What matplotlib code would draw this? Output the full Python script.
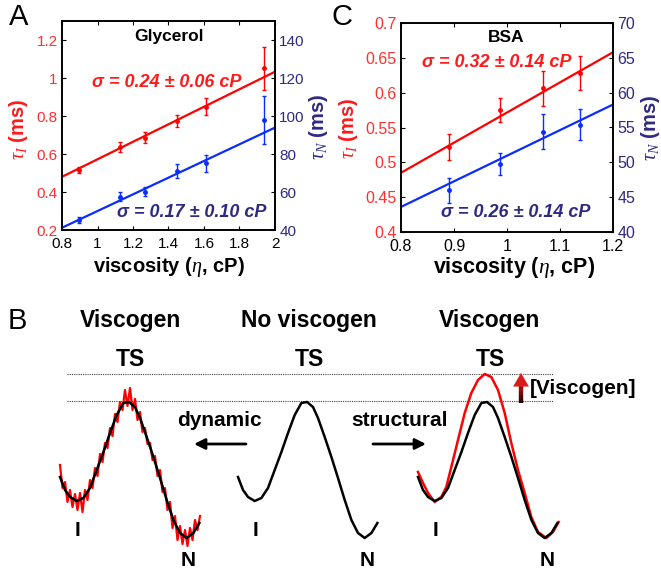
import matplotlib
matplotlib.use("Agg")
import matplotlib.pyplot as plt

plt.rcParams["font.family"] = ["Liberation Sans", "DejaVu Sans"]
plt.rcParams["mathtext.fontset"] = "custom"
plt.rcParams["mathtext.it"] = "Liberation Serif:italic"
plt.rcParams["mathtext.rm"] = "Liberation Sans"

W, H = 661, 572
RED = "#ff1a1a"
TICK_RED = "#ff3030"
NAVY = "#2e2a80"
BLUE = "#0a2cff"

# panel A: glycerol
glycerol_visc = [0.894, 1.129, 1.268, 1.447, 1.614, 1.94]
glycerol_tau_i = [0.516, 0.637, 0.686, 0.774, 0.849, 1.051]
glycerol_tau_i_err = [0.018, 0.026, 0.028, 0.033, 0.046, 0.112]
glycerol_tau_n = [45.3, 57.5, 60.2, 71.1, 75.1, 97.9]
glycerol_tau_n_err = [1.6, 2.3, 2.5, 3.8, 4.4, 12.5]
glycerol_fit_x = [0.8, 2.0]
glycerol_fit_i = [0.48, 1.033]
glycerol_fit_n = [41.2, 93.9]

# panel C: BSA
bsa_visc = [0.891, 0.987, 1.068, 1.138]
bsa_tau_i = [0.522, 0.575, 0.606, 0.628]
bsa_tau_i_err = [0.0185, 0.0175, 0.025, 0.024]
bsa_tau_n = [46.0, 49.8, 54.4, 55.4]
bsa_tau_n_err = [1.8, 1.55, 2.5, 2.2]
bsa_fit_x = [0.8, 1.2]
bsa_fit_i = [0.485, 0.658]
bsa_fit_n = [43.6, 58.3]

# panel B: schematic energy landscapes (reaction coordinate, energy in px)
profile_x = [0, 5, 10, 16.7, 23.4, 30, 36.7, 43.4, 50, 56.7, 63.4, 69, 75, 80,
             86.7, 93.4, 100, 106.7, 113.4, 120, 126.7, 133.4, 139.4]
profile_e = [63, 50, 43, 39, 42, 52, 70, 88, 107, 125, 137, 138, 133, 122,
             103, 83, 62, 40, 20, 7, 2, 7, 17]
noisy_x = [0, 2.5, 5, 7.5, 10, 12.5, 15, 17.5, 20, 22.5, 25, 27.5, 30, 32.5,
           35, 37.5, 40, 42.5, 45, 47.5, 50, 52.5, 55, 57.5, 60, 62.5, 65, 67.5,
           70, 72.5, 75, 77.5, 80, 82.5, 85, 87.5, 90, 92.5, 95, 97.5, 100,
           102.5, 105, 107.5, 110, 112.5, 115, 117.5, 120, 122.5, 125, 127.5,
           130, 132.5, 135, 137.5, 140]
noisy_e = [75, 52, 58, 38, 50, 33, 46, 30, 47, 28, 50, 40, 60, 52, 72, 64, 86,
           78, 97, 92, 112, 104, 126, 118, 138, 130, 150, 134, 152, 130, 141,
           120, 128, 108, 112, 96, 97, 80, 84, 64, 70, 48, 52, 30, 38, 12, 24,
           0, 14, -4, 10, -6, 12, 0, 20, 10, 24]
raised_x = [0, 5, 10, 16.7, 23.3, 28.3, 33.3, 40, 46.7, 53.3, 60, 66.7, 73.3,
            80, 86.7, 93.3, 100, 106.7, 113.3, 120, 128.3, 135, 140.7]
raised_e = [68, 57, 47, 38, 43, 53, 73, 100, 127, 147, 160, 166, 163, 150,
            127, 97, 70, 47, 23, 8, 2, 8, 18]


def fx(x):
    return x / W


def fy(y):
    return 1 - y / H


def rate_panel(box, visc, ti, tie, tn, tne, fit_x, fit_i, fit_n,
               xlim, xticks, ilim, iticks, nlim, nticks, fs):
    left, top, right, bottom = box
    ax = fig.add_axes([fx(left), fy(bottom), (right - left) / W, (bottom - top) / H])
    ax2 = ax.twinx()
    ax.plot(fit_x, fit_i, color="#ff0000", lw=1.6)
    ax.errorbar(visc, ti, yerr=tie, fmt="o", ms=2.5, color="#ff0000",
                ecolor="#ff0000", elinewidth=1, capsize=1.5)
    ax2.plot(fit_x, fit_n, color=BLUE, lw=1.6)
    ax2.errorbar(visc, tn, yerr=tne, fmt="o", ms=2.5, color=BLUE,
                 ecolor=BLUE, elinewidth=1, capsize=1.5)
    ax.set_xlim(*xlim)
    ax.set_ylim(*ilim)
    ax2.set_ylim(*nlim)
    ax.set_xticks(xticks)
    ax.set_yticks(iticks)
    ax2.set_yticks(nticks)
    ax.set_xticklabels([f"{v:g}" for v in xticks])
    ax.set_yticklabels([f"{v:g}" for v in iticks])
    ax2.set_yticklabels([f"{v:g}" for v in nticks])
    ax.tick_params(axis="x", direction="in", top=True, length=3, labelsize=fs,
                   colors="black", pad=5)
    ax.tick_params(axis="y", direction="in", length=3, labelsize=fs,
                   labelcolor=TICK_RED, color="black", pad=3)
    ax2.tick_params(axis="y", direction="in", length=3, labelsize=fs,
                    labelcolor=NAVY, color="black", pad=3)
    for a in (ax, ax2):
        for s in a.spines.values():
            s.set_linewidth(1.2)
    return ax


fig = plt.figure(figsize=(W / 100, H / 100), dpi=100)

# ---- panel A
axA = rate_panel((62, 21, 275, 230), glycerol_visc, glycerol_tau_i, glycerol_tau_i_err,
                 glycerol_tau_n, glycerol_tau_n_err, glycerol_fit_x, glycerol_fit_i,
                 glycerol_fit_n, (0.8, 2.0), [0.8, 1.0, 1.2, 1.4, 1.6, 1.8, 2.0],
                 (0.2, 1.3), [0.2, 0.4, 0.6, 0.8, 1.0, 1.2],
                 (40, 150), [40, 60, 80, 100, 120, 140], 11)
axA.text(0.502, 0.928, "Glycerol", transform=axA.transAxes, ha="center", va="center",
         fontsize=12.5, fontweight="bold")
axA.text(0.493, 0.708, "σ = 0.24 ± 0.06 cP", transform=axA.transAxes, ha="center",
         va="center", fontsize=13, fontweight="bold", style="italic", color=RED)
axA.text(0.61, 0.086, "σ = 0.17 ± 0.10 cP", transform=axA.transAxes, ha="center",
         va="center", fontsize=13, fontweight="bold", style="italic", color=NAVY)

# ---- panel C
axC = rate_panel((401, 23, 613, 232), bsa_visc, bsa_tau_i, bsa_tau_i_err,
                 bsa_tau_n, bsa_tau_n_err, bsa_fit_x, bsa_fit_i, bsa_fit_n,
                 (0.8, 1.2), [0.8, 0.9, 1.0, 1.1, 1.2],
                 (0.4, 0.7), [0.4, 0.45, 0.5, 0.55, 0.6, 0.65, 0.7],
                 (40, 70), [40, 45, 50, 55, 60, 65, 70], 11.5)
axC.text(0.495, 0.933, "BSA", transform=axC.transAxes, ha="center", va="center",
         fontsize=12.5, fontweight="bold")
axC.text(0.453, 0.813, "σ = 0.32 ± 0.14 cP", transform=axC.transAxes, ha="center",
         va="center", fontsize=13, fontweight="bold", style="italic", color=RED)
axC.text(0.542, 0.091, "σ = 0.26 ± 0.14 cP", transform=axC.transAxes, ha="center",
         va="center", fontsize=13, fontweight="bold", style="italic", color=NAVY)

# axis labels and panel letters
lab = dict(ha="center", va="center", fontweight="bold")
fig.text(fx(169), fy(267), r"viscosity ($\eta$, cP)", fontsize=14.5, **lab)
fig.text(fx(514), fy(267), r"viscosity ($\eta$, cP)", fontsize=15.5, **lab)
fig.text(fx(19), fy(129), r"$\tau_I$ (ms)", rotation=90, fontsize=14.5, color=RED, **lab)
fig.text(fx(318), fy(127), r"$\tau_N$ (ms)", rotation=90, fontsize=14.5, color=NAVY, **lab)
fig.text(fx(348), fy(128), r"$\tau_I$ (ms)", rotation=90, fontsize=14.5, color=RED, **lab)
fig.text(fx(650), fy(128), r"$\tau_N$ (ms)", rotation=90, fontsize=14.5, color=NAVY, **lab)
fig.text(fx(19), fy(17), "A", ha="center", va="center", fontsize=21)
fig.text(fx(342), fy(17), "C", ha="center", va="center", fontsize=21)
fig.text(fx(17), fy(321), "B", ha="center", va="center", fontsize=21)

# ---- panel B: schematic in pixel coordinates
sk = fig.add_axes([0, 0, 1, 272 / H])
sk.set_xlim(0, W)
sk.set_ylim(H, 300)
sk.axis("off")

base = 540
x0_left, x0_mid, x0_right = 60, 238, 418


def place(xs, es, x0):
    return [x0 + v for v in xs], [base - e for e in es]


sk.plot(*place(noisy_x, noisy_e, x0_left), color="#ff0000", lw=1.6, zorder=2)
sk.plot(*place(profile_x, profile_e, x0_left), color="black", lw=1.8, zorder=3)
sk.plot(*place(profile_x, profile_e, x0_mid), color="black", lw=1.8, zorder=3)
sk.plot(*place(raised_x, raised_e, x0_right), color="#ff0000", lw=1.8, zorder=2)
sk.plot(*place(profile_x, profile_e, x0_right), color="black", lw=1.8, zorder=3)

for yl in (374, 401):
    sk.plot([67, 553], [yl, yl], color="#444444", lw=0.8, ls=(0, (1, 1)), zorder=1)

big = dict(ha="center", va="center", fontweight="bold", fontsize=16.5)
sk.text(130, 320, "Viscogen", **big)
sk.text(309, 320, "No viscogen", **big)
sk.text(489, 320, "Viscogen", **big)
for xt in (130, 309, 490):
    sk.text(xt, 359, "TS", **big)

mid = dict(ha="center", va="center", fontweight="bold", fontsize=15)
sk.text(219, 420, "dynamic", **mid)
sk.text(400, 420, "structural", **mid)
sk.text(583, 388, "[Viscogen]", **mid)
for xt in (78, 255, 436):
    sk.text(xt, 530, "I", **mid)
for xt in (188, 367, 547):
    sk.text(xt, 561, "N", **mid)

arrow = dict(arrowstyle="-|>", lw=2, color="black", mutation_scale=16,
             shrinkA=0, shrinkB=0)
sk.annotate("", xy=(194, 444), xytext=(246, 444), arrowprops=arrow)
sk.annotate("", xy=(426, 444), xytext=(373, 444), arrowprops=arrow)

# viscogen arrow, dark at the base to red at the tip
shaft_y = [403, 399, 395, 391, 387, 382]
shaft_c = ["#2a0606", "#4a0a0a", "#6e0e0e", "#921212", "#b41515"]
for ya, yb, c in zip(shaft_y[:-1], shaft_y[1:], shaft_c):
    sk.plot([521, 521], [ya, yb], color=c, lw=3.2, solid_capstyle="butt")
sk.annotate("", xy=(521, 373), xytext=(521, 383),
            arrowprops=dict(arrowstyle="-|>,head_length=0.6,head_width=0.35",
                            lw=0.1, color="#d81a1a", mutation_scale=16,
                            shrinkA=0, shrinkB=0))

fig.savefig("out.png", dpi=100)
